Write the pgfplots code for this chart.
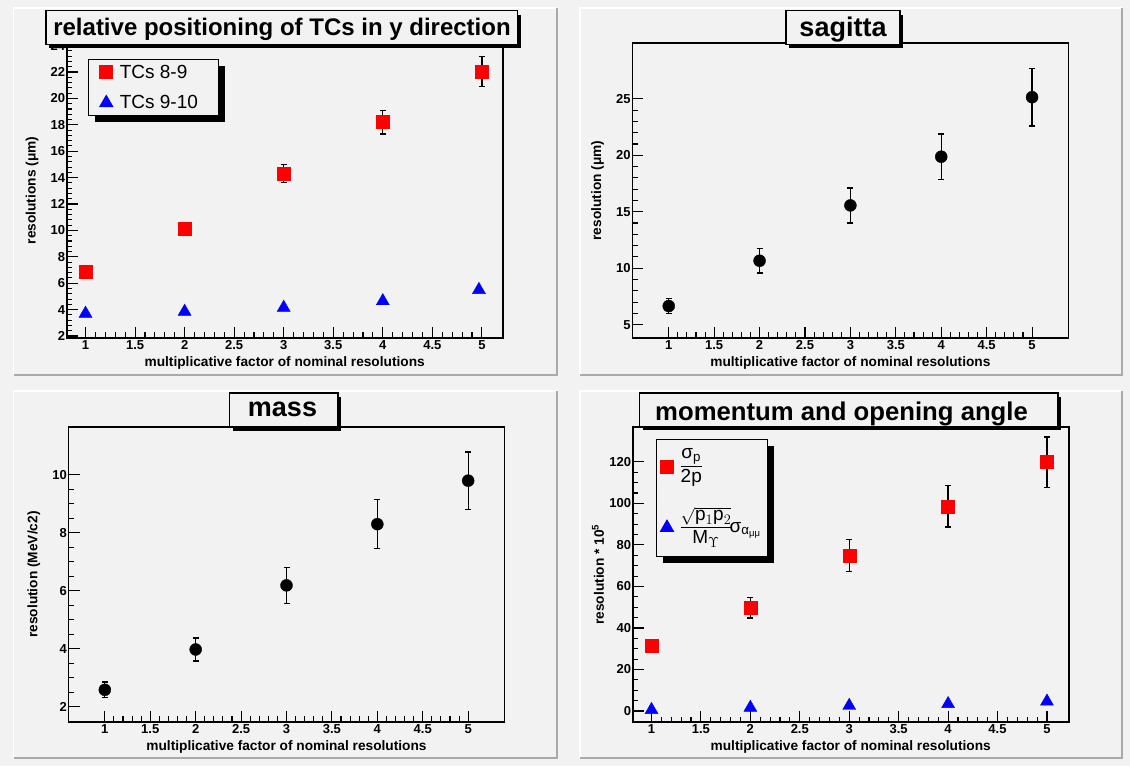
\documentclass[border=0pt]{standalone}
\usepackage{fontspec}
\setmainfont{Liberation Sans}
\usepackage{amsmath}
\usepackage{pgfplots}
\pgfplotsset{compat=1.18}
\usetikzlibrary{shadows}
\definecolor{bg}{HTML}{F2F2F2}
\definecolor{padedge}{HTML}{AAAAAA}
\definecolor{rred}{HTML}{FF0000}
\definecolor{rblue}{HTML}{0000FF}

\pgfplotsset{
  rootaxis/.style={
    scale only axis, width=436pt, height=295pt, anchor=north west,
    axis line style={line width=1.6pt, black},
    tick align=inside, tick pos=left,
    major tick length=11pt, minor tick length=5.5pt,
    every tick/.append style={black, line width=1.1pt},
    ticklabel style={font=\fontsize{13}{15}\selectfont\bfseries},
    /pgf/number format/assume math mode=true,
    yticklabel style={inner xsep=1.5pt},
    xticklabel style={inner ysep=2.5pt},
    xtick={1,1.5,2,2.5,3,3.5,4,4.5,5},
    minor x tick num=4,
    xlabel={multiplicative factor of nominal resolutions},
    label style={font=\fontsize{13.7}{16}\selectfont\bfseries},
    xlabel style={at={(axis description cs:0.5,-0.085)}, anchor=center},
    ylabel style={at={(axis description cs:-0.0796,0.5)}, anchor=center},
    clip=false,
  },
  ebar/.style={
    /pgfplots/error bars/y dir=both,
    /pgfplots/error bars/y explicit,
    /pgfplots/error bars/error mark=|,
    /pgfplots/error bars/error bar style={black, line width=1.3pt},
    /pgfplots/error bars/error mark options={black, line width=1.3pt, mark size=3pt},
  },
  rootlegend/.style={legend style={draw=black, line width=1pt, fill=bg,
    anchor=north west, drop shadow={shadow xshift=6.5pt, shadow yshift=-6.5pt, fill=black, opacity=1}},
    legend cell align=left},
}

\begin{document}
\begin{tikzpicture}
\useasboundingbox (0,0) rectangle (1130pt,766pt);
\fill[bg] (0,0) rectangle (1130pt,766pt);
% pad edges
\foreach \xa/\ya/\xb/\yb in {13.5/391/557/758, 580/391/1122/758, 13.5/8/557/375, 580/8/1122/375}{
  \draw[white, line width=1.5pt] (\xa pt,\ya pt) -- (\xa pt,\yb pt) -- (\xb pt,\yb pt);
  \draw[padedge, line width=1.5pt] (\xb pt,\yb pt) -- (\xb pt,\ya pt) -- (\xa pt,\ya pt);
}

% ---------- panel 1 ----------
\begin{axis}[rootaxis, rootlegend, at={(66.7pt,723pt)},
  xmin=0.81, xmax=5.21, ymin=1.85, ymax=24.2,
  ytick={2,4,...,24}, minor y tick num=4,
  ylabel={resolutions (μm)},
  legend style={at={(axis description cs:0.0495,0.9447)}, font=\fontsize{19}{22}\selectfont,
    inner xsep=11pt, inner ysep=3pt, row sep=12pt},
]
\addplot[only marks, mark=square*, mark size=6.5pt, color=rred, ebar]
  coordinates {(1,6.9) +- (0,0.35) (2,10.15) +- (0,0.45) (3,14.32) +- (0,0.7) (4,18.2) +- (0,0.9) (5,22.05) +- (0,1.15)};
\addlegendentry{\hspace*{5pt}TCs 8-9\hspace*{8pt}}
\addplot[only marks, mark=triangle*, mark size=7.5pt, color=rblue]
  coordinates {(1,3.7) (2,3.85) (3,4.15) (4,4.65) (4.97,5.5)};
\addlegendentry{\hspace*{5pt}TCs 9-10\hspace*{8pt}}
\end{axis}

% ---------- panel 2 ----------
\begin{axis}[rootaxis, at={(632.4pt,723pt)},
  xmin=0.6, xmax=5.4, ymin=3.82, ymax=29.94,
  ytick={5,10,...,25}, minor y tick num=4,
  ylabel={resolution (μm)},
]
\addplot[only marks, mark=*, mark size=6pt, color=black, ebar]
  coordinates {(1,6.65) +- (0,0.65) (2,10.66) +- (0,1.08) (3,15.56) +- (0,1.55) (4,19.87) +- (0,2.0) (5,25.14) +- (0,2.55)};
\end{axis}

% ---------- panel 3 ----------
\begin{axis}[rootaxis, at={(68.5pt,339pt)},
  xmin=0.6, xmax=5.4, ymin=1.48, ymax=11.65,
  ytick={2,4,...,10}, minor y tick num=3,
  ylabel={resolution (MeV/c2)},
]
\addplot[only marks, mark=*, mark size=6pt, color=black, ebar]
  coordinates {(1,2.59) +- (0,0.27) (2,3.98) +- (0,0.4) (3,6.19) +- (0,0.62) (4,8.3) +- (0,0.84) (5,9.8) +- (0,0.99)};
\end{axis}

% ---------- panel 4 ----------
\begin{axis}[rootaxis, rootlegend, at={(632.7pt,339pt)},
  xmin=0.81, xmax=5.22, ymin=-5.3, ymax=136.8,
  ytick={0,20,...,120}, minor y tick num=3,
  ylabel={resolution * 10\textsuperscript{5}},
  legend style={at={(axis description cs:0.0534,0.9593)}, font=\fontsize{19}{22}\selectfont,
    inner xsep=4pt, inner ysep=7pt, row sep=17pt, nodes={text depth=, text height=}},
]
\addplot[only marks, mark=square*, mark size=6.5pt, color=rred, ebar]
  coordinates {(1,31.6) +- (0,3.0) (2,49.7) +- (0,4.9) (3,74.9) +- (0,7.7) (4,98.6) +- (0,10.0) (5,119.9) +- (0,12.1)};
\addlegendentry{\hspace*{4pt}$\dfrac{\text{σ}_{\text{p}}}{\text{2p}}$}
\addplot[only marks, mark=triangle*, mark size=7.5pt, color=rblue]
  coordinates {(1,0.55) (2,1.6) (3,2.55) (4,3.4) (5,4.6)};
\addlegendentry{\hspace*{4pt}$\dfrac{\sqrt{\text{p}_{1}\text{p}_{2}}}{\text{M}_{\Upsilon}}\!\text{σ}_{\text{α}_{\text{μμ}}}$}
\end{axis}

% ---------- title boxes ----------
\fill[black] (49.1pt,717.7pt) rectangle (520.8pt,751.3pt);
\filldraw[fill=bg, draw=black, line width=1.3pt] (46.1pt,721.7pt) rectangle (517.8pt,755.3pt);
\node[anchor=base, inner sep=0pt, font=\fontsize{24}{28}\selectfont\bfseries] at (282pt,730pt) {relative positioning of TCs in y direction};

\fill[black] (788.9pt,717.7pt) rectangle (903.1pt,751.3pt);
\filldraw[fill=bg, draw=black, line width=1.3pt] (785.9pt,721.7pt) rectangle (900.1pt,755.3pt);
\node[anchor=base, inner sep=0pt, font=\fontsize{27}{31}\selectfont\bfseries] at (843pt,729.5pt) {sagitta};

\fill[black] (232.5pt,335pt) rectangle (341pt,369pt);
\filldraw[fill=bg, draw=black, line width=1.3pt] (229.5pt,339pt) rectangle (338pt,373pt);
\node[anchor=base, inner sep=0pt, font=\fontsize{27}{31}\selectfont\bfseries] at (282.5pt,349.7pt) {mass};

\fill[black] (642.6pt,335.7pt) rectangle (1061pt,369pt);
\filldraw[fill=bg, draw=black, line width=1.3pt] (639.6pt,339.7pt) rectangle (1058pt,373pt);
\node[anchor=base west, inner sep=0pt, font=\fontsize{25.7}{30}\selectfont\bfseries] at (655pt,345.7pt) {momentum and opening angle};
\end{tikzpicture}
\end{document}
